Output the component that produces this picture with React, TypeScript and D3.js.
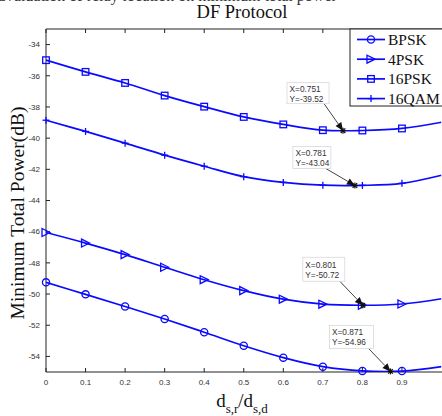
import React from 'react';
import * as d3 from 'd3';

// x = d_sr / d_sd
const ratios = [0, 0.1, 0.2, 0.3, 0.4, 0.5, 0.6, 0.7, 0.8, 0.9, 1.0];

// minimum total power (dB) per modulation
const bpsk = [-49.25, -50.02, -50.8, -51.6, -52.45, -53.32, -54.08, -54.66, -54.93, -54.94, -54.65];
const qpsk = [-46.05, -46.73, -47.47, -48.28, -49.08, -49.78, -50.33, -50.65, -50.72, -50.64, -50.3];
const psk16 = [-35.0, -35.75, -36.46, -37.27, -37.98, -38.64, -39.12, -39.49, -39.51, -39.38, -38.98];
const qam16 = [-38.85, -39.57, -40.32, -41.09, -41.8, -42.47, -42.84, -43.02, -43.03, -42.9, -42.38];

const seriesNames = ['BPSK', '4PSK', '16PSK', '16QAM'];
const seriesMarkers = ['circle', 'triangle', 'square', 'plus'];

const xTicks = [0, 0.1, 0.2, 0.3, 0.4, 0.5, 0.6, 0.7, 0.8, 0.9];
const yTicks = [-34, -36, -38, -40, -42, -44, -46, -48, -50, -52, -54];

// data cursors (minimum points)
const tipX = [0.751, 0.781, 0.801, 0.871];
const tipY = [-39.52, -43.04, -50.72, -54.96];
// box offset from the cursor point, in px
const tipOffsets = [
  { dx: -56, dy: -48, w: 42, h: 21 },
  { dx: -62, dy: -39, w: 38, h: 22 },
  { dx: -60, dy: -48, w: 42, h: 24 },
  { dx: -61, dy: -46, w: 44, h: 23 },
];

const BLUE = '#0a0aff';

const Marker = ({ kind, x, y }: { kind: string; x: number; y: number }) => {
  if (kind === 'circle') {
    return <circle cx={x} cy={y} r={3.6} fill="none" stroke={BLUE} strokeWidth={1.3} />;
  }
  if (kind === 'triangle') {
    const s = 4;
    return (
      <path
        d={`M${x + s},${y} L${x - s},${y - s} L${x - s},${y + s} Z`}
        fill="none"
        stroke={BLUE}
        strokeWidth={1.3}
      />
    );
  }
  if (kind === 'square') {
    return <rect x={x - 3.3} y={y - 3.3} width={6.6} height={6.6} fill="none" stroke={BLUE} strokeWidth={1.3} />;
  }
  return (
    <g stroke={BLUE} strokeWidth={1.3}>
      <line x1={x} x2={x} y1={y - 3.5} y2={y + 3.5} />
      <line x1={x - 3.5} x2={x + 3.5} y1={y} y2={y} />
    </g>
  );
};

const App = () => {
  const width = 442;
  const height = 416;
  const margin = { top: 29, left: 46, bottom: 372, right: 441.5 };

  const xScale = d3.scaleLinear().domain([0, 1]).range([margin.left, margin.right]);
  const yScale = d3.scaleLinear().domain([-55, -33]).range([margin.bottom, margin.top]);

  const allSeries = [bpsk, qpsk, psk16, qam16];

  const line = d3
    .line<number>()
    .x((_, i) => xScale(ratios[i]))
    .y((d) => yScale(d))
    .curve(d3.curveCatmullRom.alpha(0.5));

  const axisFont = 'Arial, "Liberation Sans", sans-serif';
  const serif = '"Times New Roman", "Liberation Serif", serif';

  return (
    <svg width={width} height={height} style={{ position: 'absolute', left: 0, top: 0, background: '#fff' }}>
      {/* clipped caption from above */}
      <text x={-4} y={1} fontFamily={serif} fontSize={16} fill="#333">
        Evaluation of relay location on minimum total power
      </text>

      <text x={242} y={18} textAnchor="middle" fontFamily={serif} fontSize={18.5} fill="#111">
        DF Protocol
      </text>

      <defs>
        <clipPath id="plot">
          <rect x={margin.left} y={margin.top} width={margin.right - margin.left} height={margin.bottom - margin.top} />
        </clipPath>
      </defs>

      {/* axes box */}
      <g stroke="#222" strokeWidth={1}>
        <line x1={margin.left} x2={width} y1={margin.top} y2={margin.top} />
        <line x1={margin.left} x2={width} y1={margin.bottom} y2={margin.bottom} />
        <line x1={margin.left} x2={margin.left} y1={margin.top} y2={margin.bottom} />
      </g>

      {/* y ticks */}
      {yTicks.map((t) => (
        <g key={t}>
          <line x1={margin.left} x2={margin.left + 4} y1={yScale(t)} y2={yScale(t)} stroke="#222" />
          <text
            x={40}
            y={yScale(t)}
            dy="0.35em"
            textAnchor="end"
            fontFamily={axisFont}
            fontSize={8}
            fill="#333"
          >
            {t}
          </text>
        </g>
      ))}

      {/* x ticks */}
      {xTicks.map((t) => (
        <g key={t}>
          <line x1={xScale(t)} x2={xScale(t)} y1={margin.bottom} y2={margin.bottom - 4} stroke="#222" />
          <line x1={xScale(t)} x2={xScale(t)} y1={margin.top} y2={margin.top + 4} stroke="#222" />
          <text x={xScale(t)} y={385} textAnchor="middle" fontFamily={axisFont} fontSize={8} fill="#333">
            {t}
          </text>
        </g>
      ))}

      {/* series */}
      {allSeries.map((vals, si) => (
        <g key={seriesNames[si]}>
          <path d={line(vals) || ''} fill="none" stroke={BLUE} strokeWidth={1.7} clipPath="url(#plot)" />
          {vals.slice(0, 10).map((v, i) => (
            <Marker key={i} kind={seriesMarkers[si]} x={xScale(ratios[i])} y={yScale(v)} />
          ))}
        </g>
      ))}

      {/* data cursors */}
      {tipX.map((tx, i) => {
        const px = xScale(tx);
        const py = yScale(tipY[i]);
        const o = tipOffsets[i];
        const bx = px + o.dx;
        const by = py + o.dy;
        const sx = bx + o.w - 5;
        const sy = by + o.h;
        const ang = Math.atan2(py - sy, px - sx);
        const hl = 8;
        const hw = 3.5;
        const baseX = px - hl * Math.cos(ang);
        const baseY = py - hl * Math.sin(ang);
        const nx = -Math.sin(ang);
        const ny = Math.cos(ang);
        return (
          <g key={i}>
            <line x1={sx} y1={sy} x2={baseX} y2={baseY} stroke="#444" strokeWidth={1} />
            <path
              d={`M${px},${py} L${baseX + nx * hw},${baseY + ny * hw} L${baseX - nx * hw},${baseY - ny * hw} Z`}
              fill="#111"
            />
            <g stroke="#111" strokeWidth={1.2}>
              <line x1={px - 3} x2={px + 3} y1={py} y2={py} />
              <line x1={px} x2={px} y1={py - 3} y2={py + 3} />
              <line x1={px - 2.3} x2={px + 2.3} y1={py - 2.3} y2={py + 2.3} />
              <line x1={px - 2.3} x2={px + 2.3} y1={py + 2.3} y2={py - 2.3} />
            </g>
            <rect x={bx} y={by} width={o.w} height={o.h} fill="#fff" stroke="#d8d8d8" strokeWidth={0.8} />
            <text x={bx + 2.5} y={by + o.h / 2 - 1.5} fontFamily={axisFont} fontSize={8.3} fill="#333">
              X={tx}
            </text>
            <text x={bx + 2.5} y={by + o.h / 2 + 8.5} fontFamily={axisFont} fontSize={8.3} fill="#333">
              Y={tipY[i].toFixed(2)}
            </text>
          </g>
        );
      })}

      {/* legend */}
      <rect x={350} y={margin.top} width={100} height={77} fill="#fff" stroke="#222" strokeWidth={1} />
      {seriesNames.map((name, i) => {
        const ly = 39.5 + i * 19.7;
        return (
          <g key={name}>
            <line x1={357} x2={385} y1={ly} y2={ly} stroke={BLUE} strokeWidth={1.7} />
            <Marker kind={seriesMarkers[i]} x={371} y={ly} />
            <text x={388} y={ly} dy="0.35em" fontFamily={serif} fontSize={15.5} fill="#111">
              {name}
            </text>
          </g>
        );
      })}

      {/* axis labels */}
      <text
        transform="translate(24,213) rotate(-90)"
        textAnchor="middle"
        fontFamily={serif}
        fontSize={19.5}
        fill="#111"
      >
        Minimum Total Power(dB)
      </text>
      <text x={242} y={407} textAnchor="middle" fontFamily={serif} fontSize={19} fill="#111">
        d
        <tspan dy={6} fontSize={13}>s,r</tspan>
        <tspan dy={-6} fontSize={19}>/d</tspan>
        <tspan dy={6} fontSize={13}>s,d</tspan>
      </text>
    </svg>
  );
};

export default App;
